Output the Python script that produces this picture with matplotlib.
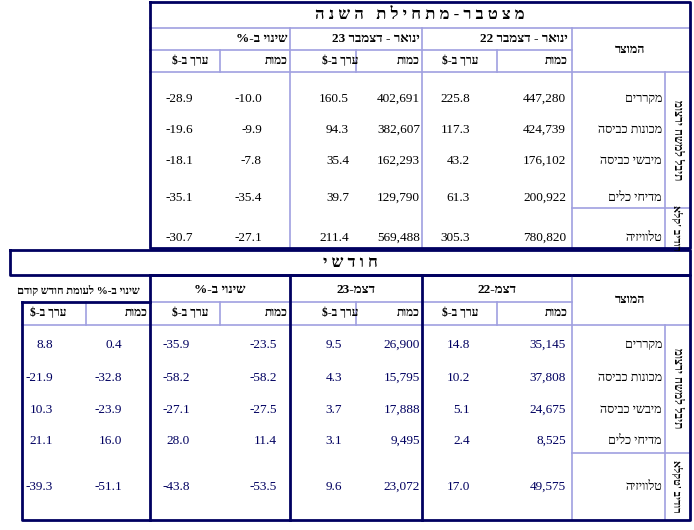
import re
import matplotlib.pyplot as plt

# data
products = ["מקררים", "מכונות כביסה", "מיבשי כביסה", "מדיחי כלים", "טלוויזיה"]
ytd22_qty = ["447,280", "424,739", "176,102", "200,922", "780,820"]
ytd22_val = ["225.8", "117.3", "43.2", "61.3", "305.3"]
ytd23_qty = ["402,691", "382,607", "162,293", "129,790", "569,488"]
ytd23_val = ["160.5", "94.3", "35.4", "39.7", "211.4"]
ytd_chg_qty = ["-10.0", "-9.9", "-7.8", "-35.4", "-27.1"]
ytd_chg_val = ["-28.9", "-19.6", "-18.1", "-35.1", "-30.7"]

dec22_qty = ["35,145", "37,808", "24,675", "8,525", "49,575"]
dec22_val = ["14.8", "10.2", "5.1", "2.4", "17.0"]
dec23_qty = ["26,900", "15,795", "17,888", "9,495", "23,072"]
dec23_val = ["9.5", "4.3", "3.7", "3.1", "9.6"]
mon_chg_qty = ["-23.5", "-58.2", "-27.5", "11.4", "-53.5"]
mon_chg_val = ["-35.9", "-58.2", "-27.1", "28.0", "-43.8"]
mom_qty = ["0.4", "-32.8", "-23.9", "16.0", "-51.1"]
mom_val = ["8.8", "-21.9", "10.3", "21.1", "-39.3"]


def heb(s):
    # visual order for right-to-left text (keep digit runs readable)
    r = s[::-1]
    return re.sub(r"[0-9][0-9.,]*", lambda m: m.group(0)[::-1], r)


NAVY = "#000060"
LIGHT = "#a0a0e0"
FONT = "Liberation Serif"

fig = plt.figure(figsize=(6.94, 5.30), dpi=100)
ax = fig.add_axes([0, 0, 1, 1])
ax.set_xlim(0, 694)
ax.set_ylim(530, 0)
ax.axis("off")


def hline(y, x0, x1, c=LIGHT, lw=1.2):
    ax.plot([x0, x1], [y, y], color=c, lw=lw)


def vline(x, y0, y1, c=LIGHT, lw=1.2):
    ax.plot([x, x], [y0, y1], color=c, lw=lw)


def txt(x, y, s, ha="center", size=9, bold=False, color="black", rot=0):
    ax.text(x, y, s, ha=ha, va="center", fontsize=size, family=FONT,
            fontweight="bold" if bold else "normal", color=color, rotation=rot)


def box(x0, y0, x1, y1, lw=2):
    ax.plot([x0, x1, x1, x0, x0], [y0, y0, y1, y1, y0], color=NAVY, lw=lw)


# ---------- top table ----------
hline(28, 150, 690)
hline(50, 150, 572)
hline(72, 150, 690)
hline(208, 572, 690)
vline(572, 28, 248)
vline(665, 72, 248)
for x in (422, 290):
    vline(x, 28, 248)
for x in (497, 356, 220):
    vline(x, 50, 72)
box(150, 2, 690, 248)

txt(420, 15, "מ צ ט ב ר - מ ת ח י ל ת   ה ש נ ה"[::-1], size=12, bold=True)
txt(630, 50, heb("המוצר"), bold=True)
txt(568, 39, heb("ינואר - דצמבר 22"), ha="right", bold=True, size=9.5)
txt(420, 39, heb("ינואר - דצמבר 23"), ha="right", bold=True, size=9.5)
txt(288, 39, heb("שינוי ב-%"), ha="right", bold=True, size=9.5)
for xq, xv in ((568, 460), (420, 340), (288, 190)):
    txt(xq, 61, heb("כמות"), ha="right", size=8.5, bold=True)
    txt(xv, 61, heb("ערך ב-$"), ha="center", size=8.5, bold=True)
txt(677, 140, "מוצרי חשמל לבית", bold=True, rot=-90, size=8.5)
txt(677, 228, "אלק' בידור", bold=True, rot=-90, size=8)

top_y = [99, 130, 161, 198, 238]
for i, y in enumerate(top_y):
    txt(662, y, heb(products[i]), ha="right", size=9)
    txt(566, y, ytd22_qty[i], ha="right", size=9.5)
    txt(470, y, ytd22_val[i], ha="right", size=9.5)
    txt(420, y, ytd23_qty[i], ha="right", size=9.5)
    txt(349, y, ytd23_val[i], ha="right", size=9.5)
    txt(262, y, ytd_chg_qty[i], ha="right", size=9.5)
    txt(193, y, ytd_chg_val[i], ha="right", size=9.5)

# ---------- monthly band ----------
box(10, 250, 690, 275)
txt(350, 263, "ח ו ד ש י"[::-1], size=12, bold=True)

# ---------- bottom table ----------
hline(302, 150, 572)
hline(325, 22, 690)
hline(453, 572, 690)
vline(572, 275, 520)
vline(665, 325, 520)
for x in (422, 290):
    vline(x, 275, 520, c=NAVY, lw=2)
vline(150, 275, 520, c=NAVY, lw=2)
for x in (497, 356, 220, 86):
    vline(x, 302, 325)
ax.plot([22, 22, 690, 690, 150], [302, 520, 520, 275, 275], color=NAVY, lw=2)
hline(302, 22, 150, c=NAVY, lw=2)

txt(630, 300, heb("המוצר"), bold=True)
txt(497, 290, heb("דצמ-22"), bold=True, size=9.5)
txt(356, 290, heb("דצמ-23"), bold=True, size=9.5)
txt(220, 290, heb("שינוי ב-%"), bold=True, size=9.5)
txt(78, 291, heb("שינוי ב-% לעומת חודש קודם"), size=8, bold=True)
for xq, xv in ((568, 460), (420, 340), (288, 190), (148, 48)):
    txt(xq, 313, heb("כמות"), ha="right", size=8.5, bold=True)
    txt(xv, 313, heb("ערך ב-$"), ha="center", size=8.5, bold=True)
txt(677, 388, "מוצרי חשמל לבית", bold=True, rot=-90, size=8.5)
txt(677, 486, "אלקט' בידור", bold=True, rot=-90, size=8)

bot_y = [345, 378, 410, 441, 487]
for i, y in enumerate(bot_y):
    txt(662, y, heb(products[i]), ha="right", size=9)
    txt(566, y, dec22_qty[i], ha="right", color=NAVY, size=9.5)
    txt(470, y, dec22_val[i], ha="right", color=NAVY, size=9.5)
    txt(420, y, dec23_qty[i], ha="right", color=NAVY, size=9.5)
    txt(342, y, dec23_val[i], ha="right", color=NAVY, size=9.5)
    txt(277, y, mon_chg_qty[i], ha="right", color=NAVY, size=9.5)
    txt(190, y, mon_chg_val[i], ha="right", color=NAVY, size=9.5)
    txt(122, y, mom_qty[i], ha="right", color=NAVY, size=9.5)
    txt(53, y, mom_val[i], ha="right", color=NAVY, size=9.5)

fig.savefig("out.png", dpi=100)
